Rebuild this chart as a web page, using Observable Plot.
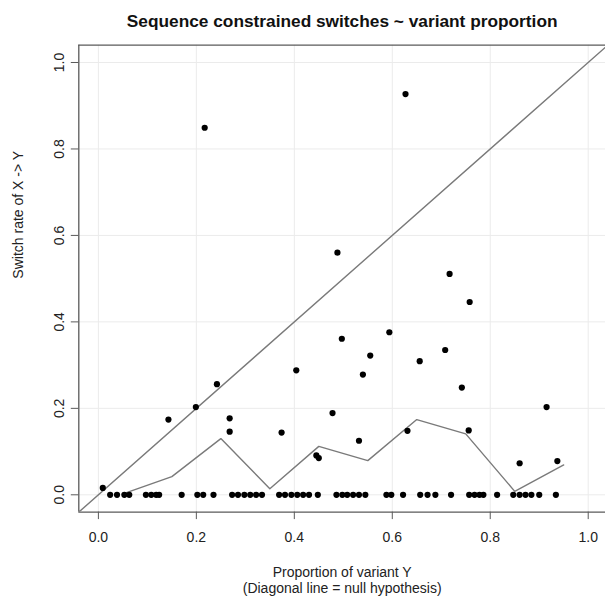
<!DOCTYPE html>
<html>
<head>
<meta charset="utf-8">
<script src="https://cdn.jsdelivr.net/npm/d3@7"></script>
<script src="https://cdn.jsdelivr.net/npm/@observablehq/plot@0.6"></script>
<style>
  html, body { margin: 0; padding: 0; background: #fff; overflow: hidden; }
  #chart svg { display: block; }
</style>
</head>
<body>
<div id="chart"></div>
<script>
// ---- data ----
const titleText = "Sequence constrained switches ~ variant proportion";
const xLabelLine1 = "Proportion of variant Y";
const xLabelLine2 = "(Diagonal line = null hypothesis)";
const yLabelText = "Switch rate of X -> Y";

const xTicks = [0, 0.2, 0.4, 0.6, 0.8, 1.0];
const yTicks = [0, 0.2, 0.4, 0.6, 0.8, 1.0];

// points with a non-zero switch rate
const rateX = [0.009, 0.143, 0.199, 0.217, 0.242, 0.268, 0.268, 0.374, 0.404, 0.445, 0.450,
               0.478, 0.488, 0.497, 0.532, 0.540, 0.555, 0.594, 0.627, 0.631, 0.656, 0.708,
               0.717, 0.742, 0.756, 0.758, 0.860, 0.915, 0.937];
const rateY = [0.016, 0.174, 0.203, 0.849, 0.256, 0.177, 0.146, 0.144, 0.288, 0.091, 0.085,
               0.189, 0.560, 0.361, 0.125, 0.278, 0.322, 0.376, 0.927, 0.148, 0.309, 0.335,
               0.511, 0.248, 0.149, 0.446, 0.073, 0.203, 0.078];

// points with a switch rate of zero
const zeroRateX = [0.024, 0.038, 0.053, 0.063, 0.097, 0.108, 0.118, 0.124, 0.170, 0.202, 0.214,
                   0.235, 0.273, 0.285, 0.298, 0.310, 0.322, 0.334, 0.369, 0.381, 0.394, 0.406,
                   0.418, 0.430, 0.448, 0.486, 0.498, 0.508, 0.520, 0.532, 0.545, 0.588, 0.598,
                   0.622, 0.657, 0.672, 0.688, 0.720, 0.757, 0.768, 0.778, 0.786, 0.814, 0.847,
                   0.860, 0.872, 0.884, 0.900, 0.934];

// binned mean line
const binX = [0.05, 0.15, 0.25, 0.35, 0.45, 0.55, 0.65, 0.75, 0.85, 0.95];
const binY = [0.002, 0.042, 0.130, 0.014, 0.112, 0.079, 0.174, 0.141, 0.008, 0.069];

// null hypothesis diagonal (y = x) end points
const diagonalEnds = [-0.04, 1.04];

// ---- build tables ----
const points = rateX.map((x, i) => ({x, y: rateY[i]}))
  .concat(zeroRateX.map(x => ({x, y: 0})));
const binLine = binX.map((x, i) => ({x, y: binY[i]}));
const diagonal = diagonalEnds.map(v => ({x: v, y: v}));

const axisColor = "#5a5a5a";
const lineColor = "#7a7a7a";
const gridColor = "#ebebeb";
const textColor = "#222";

const chart = Plot.plot({
  width: 605,
  height: 596,
  marginLeft: 78.3,
  marginRight: 0,
  marginTop: 44.7,
  marginBottom: 84.4,
  style: {fontFamily: "'Liberation Sans', Arial, sans-serif", fontSize: "14px", color: textColor, background: "#fff"},
  x: {domain: [-0.04, 1.0353], label: null},
  y: {domain: [-0.04, 1.04], label: null},
  marks: [
    Plot.gridX(xTicks, {stroke: gridColor, strokeOpacity: 1, strokeWidth: 1}),
    Plot.gridY(yTicks, {stroke: gridColor, strokeOpacity: 1, strokeWidth: 1}),
    Plot.line(diagonal, {x: "x", y: "y", stroke: lineColor, strokeWidth: 1.4, clip: true}),
    Plot.line(binLine, {x: "x", y: "y", stroke: lineColor, strokeWidth: 1.4}),
    Plot.dot(points, {x: "x", y: "y", r: 3.1, fill: "#000", stroke: null}),
    Plot.ruleX([-0.04], {stroke: axisColor, strokeWidth: 1.3}),
    Plot.ruleY([-0.04], {stroke: axisColor, strokeWidth: 1.3}),
    Plot.ruleY([1.04], {stroke: axisColor, strokeWidth: 1.3}),
    Plot.axisX(xTicks, {tickSize: 7.5, tickPadding: 12, tickFormat: d3.format(".1f"), stroke: axisColor, fill: textColor, fontSize: 14, label: null}),
    Plot.axisY(yTicks, {tickSize: 7.5, tickPadding: 7, tickRotate: -90, tickFormat: d3.format(".1f"), stroke: axisColor, fill: textColor, fontSize: 14, label: null}),
    Plot.text([titleText], {frameAnchor: "top", dy: -24, text: d => d, fontWeight: "bold", fontSize: 17.3, fill: "#111", lineAnchor: "middle"}),
    Plot.text([xLabelLine1], {frameAnchor: "bottom", dy: 60.5, text: d => d, fontSize: 14, fill: textColor, lineAnchor: "middle"}),
    Plot.text([xLabelLine2], {frameAnchor: "bottom", dy: 76.5, text: d => d, fontSize: 14, fill: textColor, lineAnchor: "middle"}),
    Plot.text([yLabelText], {frameAnchor: "left", dx: -60, rotate: -90, text: d => d, fontSize: 14, fill: textColor, lineAnchor: "middle"})
  ]
});
document.getElementById("chart").appendChild(chart);
</script>
</body>
</html>
